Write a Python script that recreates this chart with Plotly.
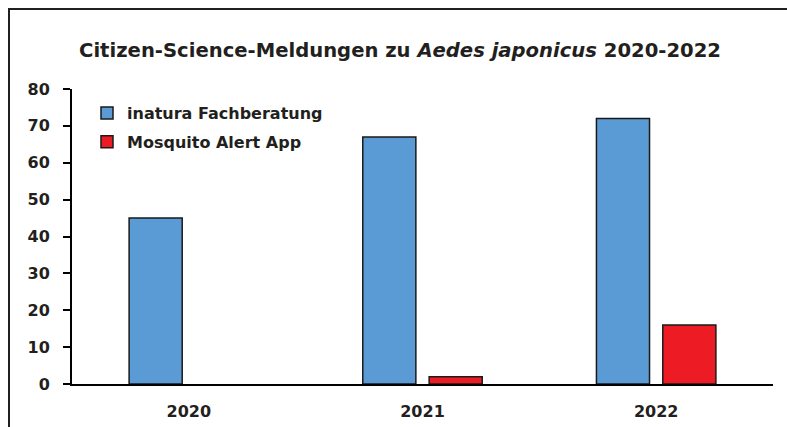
import plotly.graph_objects as go

years = ["2020", "2021", "2022"]
inatura = [45, 67, 72]
mosquito_alert = [None, 2, 16]
series_names = ["inatura Fachberatung", "Mosquito Alert App"]
y_ticks = [0, 10, 20, 30, 40, 50, 60, 70, 80]

FONT = "DejaVu Sans"
TXT = "#231f20"
W, H = 787, 427
L, R, T, B = 72, 14, 89, 43
pw, ph = W - L - R, H - T - B

fig = go.Figure()
fig.add_trace(go.Bar(x=years, y=inatura, name=series_names[0],
                     marker=dict(color="#5b9bd5", line=dict(color="#1a1a1a", width=1.5)),
                     legendgroup="a"))
fig.add_trace(go.Bar(x=years, y=mosquito_alert, name=series_names[1],
                     marker=dict(color="#ed1c24", line=dict(color="#1a1a1a", width=1.5)),
                     legendgroup="b"))

fig.update_layout(
    width=W, height=H,
    margin=dict(l=L, r=R, t=T, b=B),
    paper_bgcolor="white", plot_bgcolor="white",
    barmode="group", bargap=0.432, bargroupgap=0.2,
    font=dict(family=FONT, color=TXT, size=16),
    title=dict(text="<b>Citizen-Science-Meldungen zu <i>Aedes japonicus</i> 2020-2022</b>",
               x=400 / W, xanchor="center", xref="container",
               y=1 - 50 / H, yanchor="middle", yref="container",
               font=dict(family=FONT, size=19.6, color=TXT)),
    legend=dict(x=(87 - L) / pw, xanchor="left", y=1 - (96 - T) / ph, yanchor="top",
                bgcolor="rgba(0,0,0,0)", traceorder="grouped", tracegroupgap=5,
                font=dict(family=FONT, size=16, color=TXT, weight="bold")),
    xaxis=dict(showline=True, linecolor="black", linewidth=2, ticks="",
               range=[-0.5, 2.5], showgrid=False, zeroline=False, automargin=False,
               tickfont=dict(family=FONT, size=16, color=TXT, weight="bold"),
               ticklabelstandoff=12),
    yaxis=dict(range=[0, 80], tickvals=y_ticks, showline=True, linecolor="black", linewidth=2,
               ticks="outside", ticklen=7, tickwidth=2, tickcolor="black",
               showgrid=False, zeroline=False, automargin=False,
               tickfont=dict(family=FONT, size=16, color=TXT, weight="bold"),
               ticklabelstandoff=10),
    shapes=[dict(type="rect", xref="paper", yref="paper",
                 x0=(9 - L) / pw, x1=1 + (R + 10) / pw,
                 y0=-(B + 10) / ph, y1=1 + (T - 9) / ph,
                 line=dict(color="#231f20", width=2), fillcolor="rgba(0,0,0,0)", layer="below")],
)

fig.write_html("out.html", config={"displayModeBar": False},
               post_script="document.body.style.margin='0';")
